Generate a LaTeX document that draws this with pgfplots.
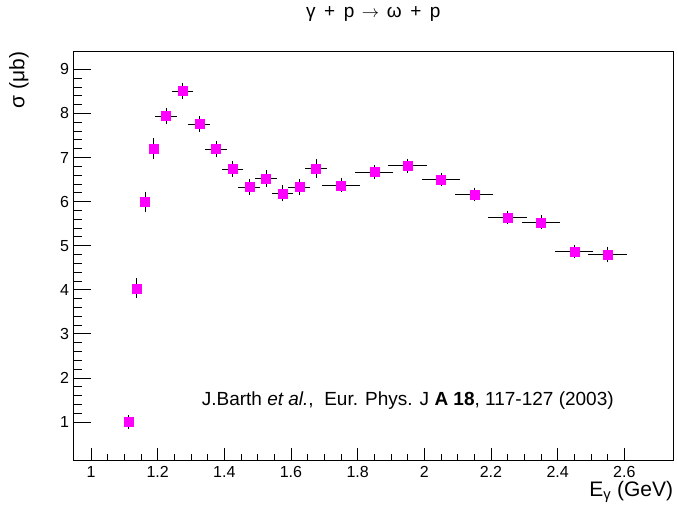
\documentclass[border=0pt]{standalone}
\usepackage{pgfplots}
\pgfplotsset{compat=1.18}
\usepackage{fontspec}
\setmainfont{Liberation Sans}
\definecolor{rootmag}{RGB}{255,0,255}
\begin{document}
\begin{tikzpicture}
\useasboundingbox (-73.3pt,-50.7pt) rectangle (604.7pt,460.3pt);
\begin{axis}[
  scale only axis,
  width=600pt, height=408.6pt,
  xmin=0.947, xmax=2.747, ymin=0.133, ymax=9.40,
  xtick={1,1.2,...,2.61}, ytick={1,2,...,9},
  minor x tick num=3, minor y tick num=4,
  xtick pos=bottom, ytick pos=left, tick align=inside,
  major tick length=15pt, minor tick length=7.5pt,
  xtick style={/pgfplots/major tick length=12pt,/pgfplots/minor tick length=6pt},
  ytick style={/pgfplots/major tick length=18pt,/pgfplots/minor tick length=9pt},
  tick style={black, line width=0.8pt},
  axis line style={line width=1.2pt},
  /pgf/number format/assume math mode=true,
  xticklabel style={font=\fontsize{16}{19}\selectfont, /pgf/number format/fixed, inner sep=0pt, yshift=-6pt},
  yticklabel style={font=\fontsize{16}{19}\selectfont, inner sep=0pt, xshift=-4pt},
  xlabel={E\textsubscript{γ} (GeV)},
  xlabel style={at={(axis description cs:1,-0.089)}, anchor=base east, inner sep=0pt, font=\fontsize{21}{24}\selectfont},
  ylabel={σ (μb)},
  ylabel style={at={(axis description cs:-0.0905,1)}, anchor=east, inner sep=0pt, font=\fontsize{21}{24}\selectfont},
  clip=false,
]
\addplot+[only marks, mark=square*, mark size=4.5pt,
  mark options={draw=rootmag, fill=rootmag},
  error bars/.cd, x dir=both, x explicit, y dir=both, y explicit,
  error bar style={black, line width=0.8pt},
  error mark options={black, line width=0.8pt, mark size=2.5pt}]
  table[x=x, y=y, x error=ex, y error=ey] {
x y ex ey
1.112 1.00 0 0.10
1.137 4.03 0 0.17
1.162 5.99 0 0.18
1.187 7.21 0 0.18
1.225 7.94 0.025 0.13
1.275 8.51 0.025 0.13
1.325 7.76 0.025 0.12
1.375 7.19 0.025 0.13
1.425 6.74 0.025 0.12
1.475 6.33 0.025 0.12
1.525 6.52 0.025 0.13
1.575 6.19 0.025 0.13
1.625 6.33 0.025 0.13
1.675 6.75 0.025 0.15
1.75 6.37 0.05 0.10
1.85 6.67 0.05 0.10
1.95 6.81 0.05 0.10
2.05 6.50 0.05 0.10
2.15 6.16 0.05 0.10
2.25 5.64 0.05 0.10
2.35 5.53 0.05 0.10
2.45 4.87 0.05 0.10
2.55 4.80 0.05 0.12
};
\node[anchor=center, inner sep=0pt, font=\fontsize{19}{22}\selectfont] at (axis description cs:0.5,1.092) {γ\hspace{0.45em}+\hspace{0.45em}p\hspace{0.4em}$\rightarrow$\hspace{0.4em}ω\hspace{0.45em}+\hspace{0.45em}p};
\node[anchor=base west, inner sep=0pt, font=\fontsize{19}{22}\selectfont] at (axis cs:1.332,1.385) {J.Barth \textit{et al.},\ \ Eur. Phys. J \textbf{A 18}, 117-127 (2003)};
\end{axis}
\end{tikzpicture}
\end{document}
